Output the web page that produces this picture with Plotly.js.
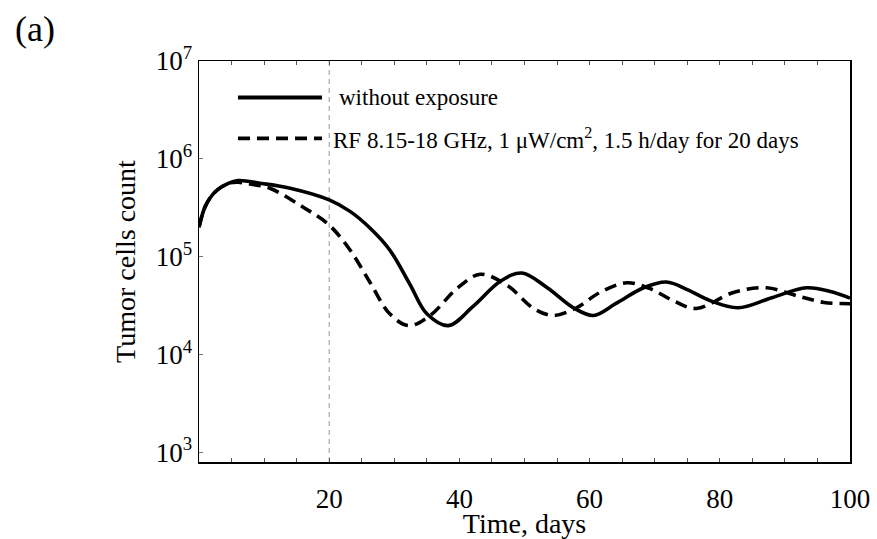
<!DOCTYPE html>
<html>
<head>
<meta charset="utf-8">
<script src="https://cdn.plot.ly/plotly-3.0.1.min.js"></script>
<style>html,body{margin:0;padding:0;background:#fff;}#chart{width:877px;height:539px;}</style>
</head>
<body>
<div id="chart"></div>
<script>
// Time (days)
const daysSolid = [0, 1, 2.5, 4.5, 6, 9.6, 14, 20, 23.2, 26.3, 29.3, 32.4, 35, 38.3, 42.1, 46.3, 49.6, 53.5, 57.5, 60.6, 64, 68.3, 71.8, 75, 78.5, 82.8, 88, 93.3, 97, 100];
const countSolid = [2.0e5, 3.3e5, 4.6e5, 5.6e5, 6.0e5, 5.6e5, 5.0e5, 3.8e5, 2.9e5, 1.95e5, 1.17e5, 5.2e4, 2.6e4, 1.97e4, 3.1e4, 5.6e4, 6.8e4, 4.8e4, 3.0e4, 2.5e4, 3.3e4, 4.8e4, 5.5e4, 4.6e4, 3.55e4, 3.0e4, 3.8e4, 4.8e4, 4.4e4, 3.76e4];

const daysDashed = [0, 1, 2.5, 4.5, 6, 8, 10.9, 16, 20, 23.2, 26.3, 29.3, 32.2, 35.5, 39.6, 43.2, 47.3, 51.4, 54.4, 58, 61.6, 65.7, 69.3, 73, 76.4, 82.1, 87.2, 92.3, 96, 100];
const countDashed = [2.0e5, 3.3e5, 4.6e5, 5.6e5, 5.75e5, 5.5e5, 5.0e5, 3.2e5, 2.1e5, 1.17e5, 5.4e4, 2.6e4, 1.97e4, 2.5e4, 4.7e4, 6.6e4, 5.1e4, 2.95e4, 2.5e4, 3.0e4, 4.3e4, 5.4e4, 4.7e4, 3.5e4, 2.95e4, 4.3e4, 4.8e4, 3.9e4, 3.4e4, 3.3e4];

const seriesNames = ["without exposure", "RF 8.15-18 GHz, 1 \u03bcW/cm<sup>2</sup>, 1.5 h/day for 20 days"];
const xTickVals = [20, 40, 60, 80, 100];
const yTickVals = [1e3, 1e4, 1e5, 1e6, 1e7];
const yTickText = ["10<sup>3</sup>", "10<sup>4</sup>", "10<sup>5</sup>", "10<sup>6</sup>", "10<sup>7</sup>"];
const exposureEnd = 20;

const FONT = "Liberation Serif, Times New Roman, serif";

const traces = [
  {x: daysSolid, y: countSolid, mode: "lines", name: seriesNames[0], showlegend: false,
   line: {color: "#000", width: 3.6, shape: "spline", smoothing: 1}},
  {x: daysDashed, y: countDashed, mode: "lines", name: seriesNames[1], showlegend: false,
   line: {color: "#000", width: 3.6, dash: "12px,7px", shape: "spline", smoothing: 1}}
];

const minorY = [];
for (let e = 3.0; e <= 7.0001; e += 0.2) minorY.push(Math.pow(10, e));

const layout = {
  width: 877, height: 539,
  margin: {l: 199, r: 27, t: 61, b: 77},
  paper_bgcolor: "#fff", plot_bgcolor: "#fff",
  font: {family: FONT, color: "#000", size: 24},
  showlegend: false,
  xaxis: {
    range: [0, 100], tickvals: xTickVals, ticks: "inside", ticklen: 4, tickwidth: 1, tickcolor: "#555",
    showgrid: false, zeroline: false, showline: true, linecolor: "#000", linewidth: 1.5,
    mirror: "ticks", tickfont: {size: 27, family: FONT}, ticklabelstandoff: 12,
    minor: {dtick: 5, ticks: "inside", ticklen: 4, tickcolor: "#555", showgrid: false},
    title: {text: "Time, days", font: {size: 28, family: FONT}, standoff: 4}
  },
  yaxis: {
    type: "log", range: [2.9, 7], tickvals: yTickVals, ticktext: yTickText, ticks: "inside", ticklen: 4, tickwidth: 1, tickcolor: "#777",
    showgrid: false, zeroline: false, showline: true, linecolor: "#000", linewidth: 1.5,
    mirror: true, tickfont: {size: 27, family: FONT}, ticklabelstandoff: 0,
    title: {text: "Tumor cells count", font: {size: 28, family: FONT}, standoff: 12}
  },
  yaxis2: {
    type: "log", range: [2.9, 7], overlaying: "y", side: "right", anchor: "x",
    tickvals: minorY, ticks: "inside", ticklen: 4, tickwidth: 1, tickcolor: "#555",
    showticklabels: false, showgrid: false, zeroline: false, showline: false
  },
  shapes: [
    {type: "line", xref: "x", yref: "paper", x0: exposureEnd, x1: exposureEnd, y0: 0, y1: 1,
     line: {color: "#999", width: 1, dash: "5px,4px"}, layer: "below"},
    {type: "line", xref: "paper", yref: "paper", x0: 0.0599, x1: 0.1889, y0: 0.909, y1: 0.909,
     line: {color: "#000", width: 3.8}},
    {type: "line", xref: "paper", yref: "paper", x0: 0.0599, x1: 0.1889, y0: 0.807, y1: 0.807,
     line: {color: "#000", width: 3.8, dash: "12px,7px"}}
  ],
  annotations: [
    {text: seriesNames[0], xref: "paper", yref: "paper", x: 0.212, y: 0.909, xanchor: "left", yanchor: "middle",
     showarrow: false, font: {size: 23, family: FONT}},
    {text: seriesNames[1], xref: "paper", yref: "paper", x: 0.202, y: 0.807, xanchor: "left", yanchor: "middle",
     showarrow: false, font: {size: 23, family: FONT}},
    {text: "(a)", xref: "paper", yref: "paper", x: -0.285, y: 1.08, xanchor: "left", yanchor: "middle",
     showarrow: false, font: {size: 36, family: FONT}}
  ]
};

Plotly.newPlot("chart", traces, layout, {displayModeBar: false, staticPlot: true});
</script>
</body>
</html>
